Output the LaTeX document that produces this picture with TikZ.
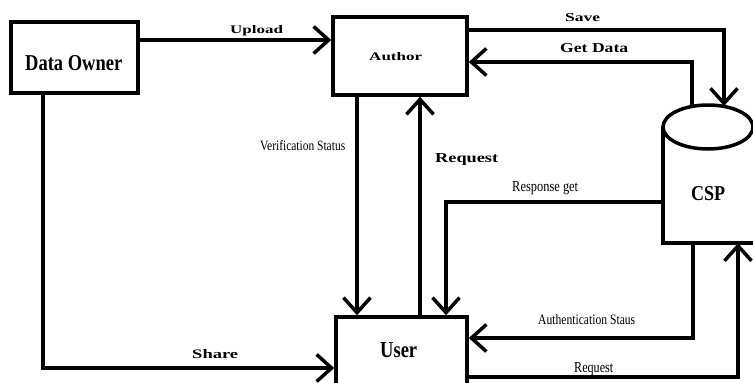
\documentclass[tikz,border=0pt]{standalone}
\usepackage{fontspec}
\usepackage{graphicx}
\setmainfont{Liberation Serif}
\usetikzlibrary{arrows.meta}
\newcommand{\fitlbl}[3]{\resizebox{#1pt}{#2pt}{#3}}
\begin{document}
\begin{tikzpicture}[x=1pt,y=-1pt,
  box/.style={draw,line width=3.5pt,inner sep=0pt},
  lab/.style={inner sep=0pt,anchor=base west},
  arr/.style={line width=3.5pt,-{Straight Barb[length=15pt,width=27pt]}},
  conn/.style={line width=3.5pt}]
\useasboundingbox (0,0) rectangle (753,383);
\clip (0,0) rectangle (753,383);
\fill[white] (0,0) rectangle (753,383);
% boxes
\node[box,line width=4pt,minimum width=127pt,minimum height=71pt] (owner) at (74.5,57.5) {};
\node[box,minimum width=134pt,minimum height=78pt] (author) at (400,56) {};
\node[box,minimum width=131pt,minimum height=86pt] (user) at (401.5,360) {};
% CSP cylinder
\node[inner sep=0pt,minimum width=90pt,minimum height=138pt] (csp) at (708,174) {};
\draw[conn] (663,126) -- (663,243) -- (762,243) -- (762,126);
\draw[conn,fill=white] (708,127) ellipse [x radius=45, y radius=22];
\coordinate (cspSave) at (724,106);
\coordinate (cspGet) at (692,106);
% texts
\node[lab] (tOwner) at (25,70) {\fitlbl{97}{15}{\textbf{Data Owner}}};
\node[lab] (tUpload) at (230,33) {\fitlbl{53}{8}{\textbf{Upload}}};
\node[lab] (tAuthor) at (369,60) {\fitlbl{53}{8}{\textbf{Author}}};
\node[lab] (tSave) at (565,21) {\fitlbl{35}{8}{\textbf{Save}}};
\node[lab] (tGet) at (560,52) {\fitlbl{68}{9}{\textbf{Get Data}}};
\node[lab] (tVer) at (260,150) {\fitlbl{85}{10}{Verification Status}};
\node[lab] (tReq) at (435,162) {\fitlbl{63}{9}{\textbf{Request}}};
\node[lab] (tResp) at (512,191) {\fitlbl{66}{10}{Response get}};
\node[lab] (tCSP) at (691,200) {\fitlbl{34}{14}{\textbf{CSP}}};
\node[lab] (tAuth) at (538,324) {\fitlbl{97}{10}{Authentication Staus}};
\node[lab] (tUser) at (380,357) {\fitlbl{37}{15}{\textbf{User}}};
\node[lab] (tReqB) at (574,372) {\fitlbl{39}{10}{Request}};
\node[lab] (tShare) at (192,358) {\fitlbl{46}{9}{\textbf{Share}}};
% connectors
\draw[arr] (owner.east |- 0,40) -- (author.west |- 0,40);
\draw[arr] (author.east |- 0,30) -| (cspSave);
\draw[arr] (cspGet) |- (author.east |- 0,62);
\draw[arr] (author.south -| 357,0) -- (user.north -| 357,0);
\draw[arr] (user.north -| 420,0) -- (author.south -| 420,0);
\draw[arr] (csp.west |- 0,202) -| (user.north -| 446,0);
\draw[arr] (csp.south -| 693,0) |- (user.east |- 0,338);
\draw[arr] (user.east |- 0,377) -| (csp.south -| 738,0);
\draw[arr] (owner.south -| 43,0) |- (user.west |- 0,368);
\end{tikzpicture}
\end{document}
